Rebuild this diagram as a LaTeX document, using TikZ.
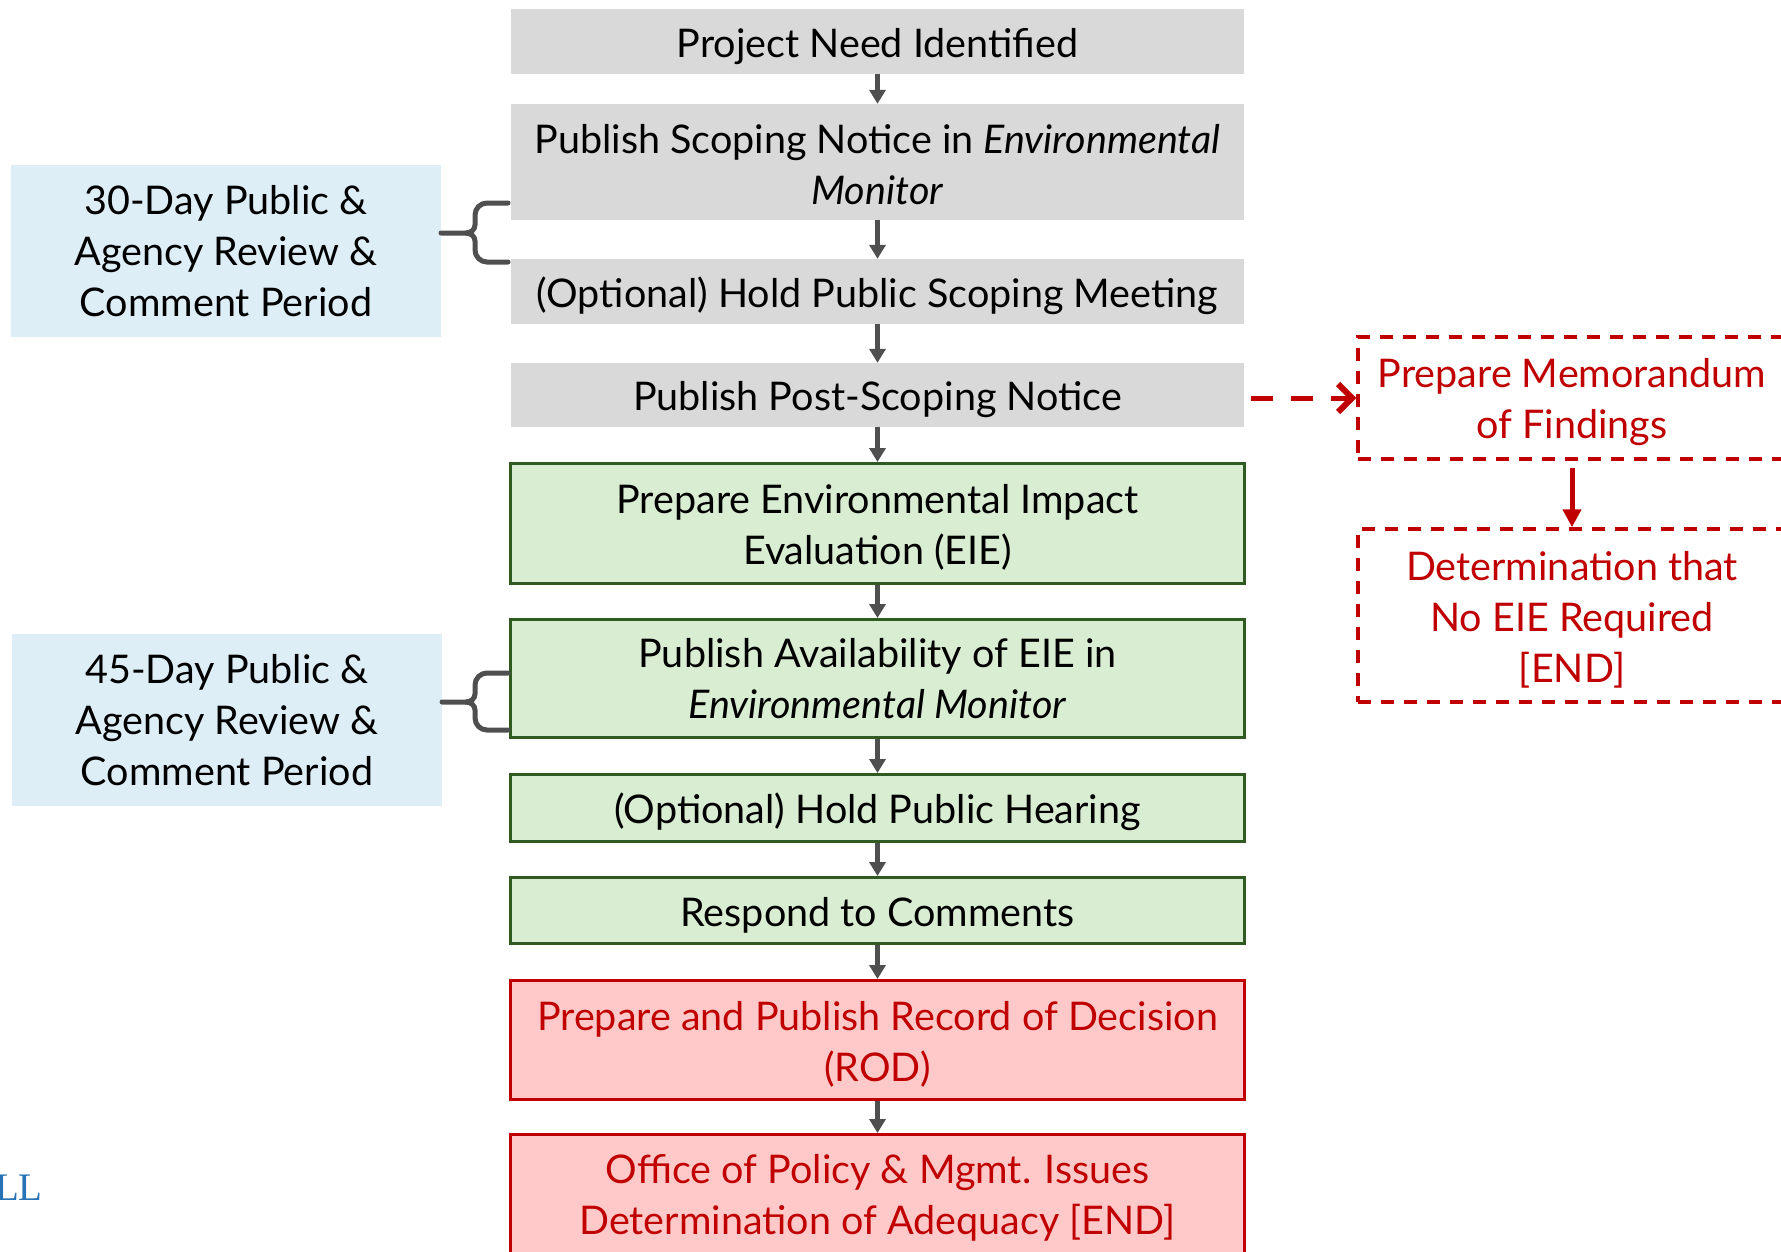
\documentclass[tikz,border=0pt]{standalone}
\usepackage{fontspec}
\setmainfont{Lato}
\setsansfont{Lato}
\newfontfamily\logofont{Liberation Serif}
\usetikzlibrary{arrows.meta}
\definecolor{grayfill}{HTML}{D9D9D9}
\definecolor{greenfill}{HTML}{D8EDD2}
\definecolor{greenline}{HTML}{2F5B22}
\definecolor{bluefill}{HTML}{DEEEF6}
\definecolor{redfill}{HTML}{FFC9C9}
\definecolor{redline}{HTML}{C00000}
\definecolor{arrowgray}{HTML}{4F4F4F}
\definecolor{logoblue}{HTML}{2573B5}
\newcommand{\onestrut}{\rule[-10pt]{0pt}{51pt}}
\newcommand{\topstrut}{\rule{0pt}{37pt}}
\begin{document}
\begin{tikzpicture}[x=1pt,y=-1pt,
  base/.style={align=center, inner sep=0pt, font=\fontsize{39.5}{51}\selectfont},
  graybox/.style={base, fill=grayfill, minimum width=733pt},
  greenbox/.style={base, fill=greenfill, draw=greenline, line width=3pt, minimum width=734pt},
  redbox/.style={base, fill=redfill, draw=redline, line width=3pt, minimum width=734pt, text=redline},
  bluebox/.style={base, fill=bluefill, minimum width=430pt, minimum height=172pt},
  dashbox/.style={base, draw=redline, dash pattern=on 13pt off 10pt, line width=3.5pt, text=redline, minimum width=428pt},
  flow/.style={draw=arrowgray, line width=4.5pt, -{Triangle[width=16pt,length=14pt]}},
  brace/.style={draw=arrowgray, line width=5pt, line cap=round},
  dasharrow/.style={draw=redline, line width=5pt, dash pattern=on 22pt off 18pt, -{Straight Barb[length=14pt,width=28pt,line width=6pt]}},
  redflow/.style={draw=redline, line width=5pt, -{Triangle[width=18pt,length=18pt]}}
]
\useasboundingbox (0,0) rectangle (1781,1251);
\clip (0,0) rectangle (1781,1251);

\node[graybox, minimum height=65pt] (n1) at (877.5,41.5) {\onestrut Project Need Identified};
\node[graybox, minimum height=116pt] (n2) at (877.5,162) {\rule{0pt}{34pt}Publish Scoping Notice in \textit{Environmental}\\\textit{Monitor}};
\node[graybox, minimum height=65pt] (n3) at (877.5,291.5) {\onestrut(Optional) Hold Public Scoping Meeting};
\node[graybox, minimum height=64pt] (n4) at (877.5,395) {\onestrut Publish Post-Scoping Notice};
\node[greenbox, minimum height=120pt] (n5) at (877.5,523.5) {\topstrut Prepare Environmental Impact\\Evaluation (EIE)};
\node[greenbox, minimum height=118pt] (n6) at (877.5,678.5) {Publish Availability of EIE in\\\textit{Environmental Monitor}};
\node[greenbox, minimum height=67pt] (n7) at (877.5,808) {\onestrut(Optional) Hold Public Hearing};
\node[greenbox, minimum height=66pt] (n8) at (877.5,910.5) {\onestrut Respond to Comments};
\node[redbox, minimum height=119pt] (n9) at (877.5,1040) {\topstrut Prepare and Publish Record of Decision\\(ROD)};
\node[redbox, minimum height=119pt] (n10) at (877.5,1194) {\topstrut Office of Policy \& Mgmt. Issues\\Determination of Adequacy [END]};

\node[bluebox] (b1) at (226,251) {30-Day Public \&\\Agency Review \&\\Comment Period};
\node[bluebox] (b2) at (227,720) {45-Day Public \&\\Agency Review \&\\Comment Period};

\node[dashbox, minimum height=122pt] (m1) at (1572,398) {\topstrut Prepare Memorandum\\of Findings};
\node[dashbox, minimum height=173pt] (m2) at (1572,615.5) {\topstrut Determination that\\No EIE Required\\{[END]}};

\node[anchor=base east, inner sep=0pt, font=\logofont\fontsize{39}{40}\selectfont, text=logoblue] (logo) at (43,1200) {LL};

\foreach \a/\b in {n1/n2,n2/n3,n3/n4,n4/n5,n5/n6,n6/n7,n7/n8,n8/n9,n9/n10}
  \draw[flow] (\a.south) -- (\b.north);

% braces
\draw[brace] (508,203) -- (487,203) to[out=180,in=90] (475,215) -- (475,225) to[out=-90,in=0] (466,233) -- (441,233);
\draw[brace] (508,262) -- (487,262) to[out=180,in=-90] (475,250) -- (475,241) to[out=90,in=0] (466,233);
\draw[brace] (508,673) -- (487,673) to[out=180,in=90] (475,685) -- (475,694) to[out=-90,in=0] (466,702) -- (442,702);
\draw[brace] (508,730) -- (487,730) to[out=180,in=-90] (475,718) -- (475,710) to[out=90,in=0] (466,702);

\path (n4.east |- m1.west) coordinate (d0);
\draw[dasharrow] ([xshift=7pt]d0) -- (m1.west);
\draw[redflow] ([yshift=-7pt]m1.south) -- (m2.north);
\end{tikzpicture}
\end{document}
